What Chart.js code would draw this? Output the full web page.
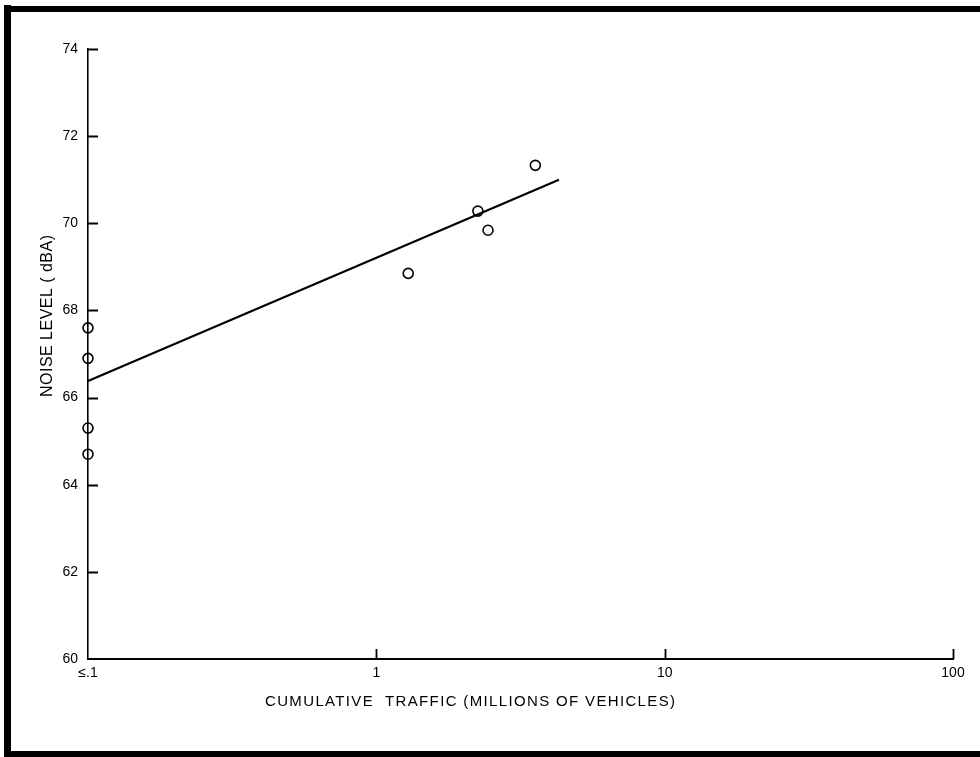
<!DOCTYPE html>
<html>
<head>
<meta charset="utf-8">
<script src="https://cdn.jsdelivr.net/npm/chart.js@4"></script>
<style>
  html, body { margin: 0; padding: 0; background: #fff; }
  canvas { display: block; }
</style>
</head>
<body>
<canvas id="chart" width="980" height="757"></canvas>
<script>
// Noise level versus cumulative traffic, log traffic axis with fitted trend
const xTickValues = [0.1, 1, 10, 100];
const xTickLabels = ['≤.1', '1', '10', '100'];
const yTickValues = [60, 62, 64, 66, 68, 70, 72, 74];

const trafficMillions = [0.1, 0.1, 0.1, 0.1, 1.29, 2.25, 2.44, 3.56];
const noiseDbA = [67.6, 66.9, 65.3, 64.7, 68.85, 70.28, 69.84, 71.33];

const fitTraffic = [0.1, 4.3];
const fitNoise = [66.38, 71.0];

const xTitle = 'CUMULATIVE  TRAFFIC (MILLIONS OF VEHICLES)';
const yTitle = 'NOISE LEVEL ( dBA)';

const FONT = "'Liberation Sans', Arial, Helvetica, sans-serif";

const pts = trafficMillions.map((t, i) => ({ x: t, y: noiseDbA[i] }));
const fit = fitTraffic.map((t, i) => ({ x: t, y: fitNoise[i] }));

// short tick marks pointing into the plot area
const innerTicks = {
  id: 'innerTicks',
  afterDraw(chart) {
    const { ctx, scales: { x, y } } = chart;
    ctx.save();
    ctx.strokeStyle = '#000';
    ctx.lineWidth = 1.8;
    ctx.beginPath();
    y.ticks.forEach(t => {
      if (t.value === y.min) return;
      const py = Math.round(y.getPixelForValue(t.value)) + 0.5;
      ctx.moveTo(x.left, py);
      ctx.lineTo(x.left + 10, py);
    });
    x.ticks.forEach(t => {
      if (t.value <= x.min) return;
      const px = Math.round(x.getPixelForValue(t.value)) + 0.5;
      ctx.moveTo(px, y.bottom);
      ctx.lineTo(px, y.bottom - 10);
    });
    ctx.stroke();
    ctx.restore();
  }
};

// spaced axis titles
function spacedText(ctx, text, cx, cy, width, font, rotate) {
  ctx.save();
  ctx.font = font;
  ctx.fillStyle = '#000';
  ctx.textBaseline = 'middle';
  ctx.textAlign = 'left';
  const natural = ctx.measureText(text).width;
  ctx.translate(cx, cy);
  if (rotate) ctx.rotate(-Math.PI / 2);
  if ('letterSpacing' in ctx) {
    const gap = (width - natural) / (text.length - 1);
    ctx.letterSpacing = gap + 'px';
    ctx.fillText(text, -width / 2, 0);
  } else {
    ctx.scale(width / natural, 1);
    ctx.fillText(text, -natural / 2, 0);
  }
  ctx.restore();
}

const axisTitles = {
  id: 'axisTitles',
  afterDraw(chart) {
    const ctx = chart.ctx;
    spacedText(ctx, xTitle, 470, 702, 410, '15px ' + FONT, false);
    spacedText(ctx, yTitle, 47.5, 316, 162, '16px ' + FONT, true);
  }
};

// heavy frame along the left, top and bottom edges
const frame = {
  id: 'frame',
  afterDraw(chart) {
    const ctx = chart.ctx;
    ctx.save();
    ctx.fillStyle = '#000';
    ctx.fillRect(4, 5, 7, 752);
    ctx.fillRect(4, 6, 976, 6);
    ctx.fillRect(4, 751, 976, 6);
    ctx.restore();
  }
};

new Chart(document.getElementById('chart'), {
  type: 'scatter',
  data: {
    datasets: [
      {
        data: fit,
        showLine: true,
        borderColor: '#000',
        borderWidth: 2.2,
        pointRadius: 0,
        clip: false,
        order: 2
      },
      {
        data: pts,
        showLine: false,
        pointStyle: 'circle',
        pointRadius: 5,
        pointBorderWidth: 1.6,
        pointBorderColor: '#000',
        pointBackgroundColor: 'rgba(255,255,255,0)',
        clip: false,
        order: 1
      }
    ]
  },
  options: {
    responsive: false,
    animation: false,
    events: [],
    layout: { padding: { left: 0, right: 27, top: 49, bottom: 58 } },
    plugins: {
      legend: { display: false },
      tooltip: { enabled: false }
    },
    scales: {
      x: {
        type: 'logarithmic',
        min: 0.1,
        max: 100,
        afterBuildTicks: s => { s.ticks = xTickValues.map(v => ({ value: v })); },
        afterFit: s => { s.height = 40; },
        grid: { drawOnChartArea: false, drawTicks: false },
        border: { color: '#000', width: 2 },
        ticks: {
          autoSkip: false,
          maxRotation: 0,
          padding: 6,
          color: '#000',
          font: { family: FONT, size: 14 },
          callback: (v, i) => xTickLabels[i]
        }
      },
      y: {
        type: 'linear',
        min: 60,
        max: 74,
        afterBuildTicks: s => { s.ticks = yTickValues.map(v => ({ value: v })); },
        afterFit: s => { s.width = 88; },
        grid: { drawOnChartArea: false, drawTicks: false },
        border: { color: '#000', width: 1.6 },
        ticks: {
          padding: 10,
          color: '#000',
          font: { family: FONT, size: 14 }
        }
      }
    }
  },
  plugins: [innerTicks, axisTitles, frame]
});
</script>
</body>
</html>
